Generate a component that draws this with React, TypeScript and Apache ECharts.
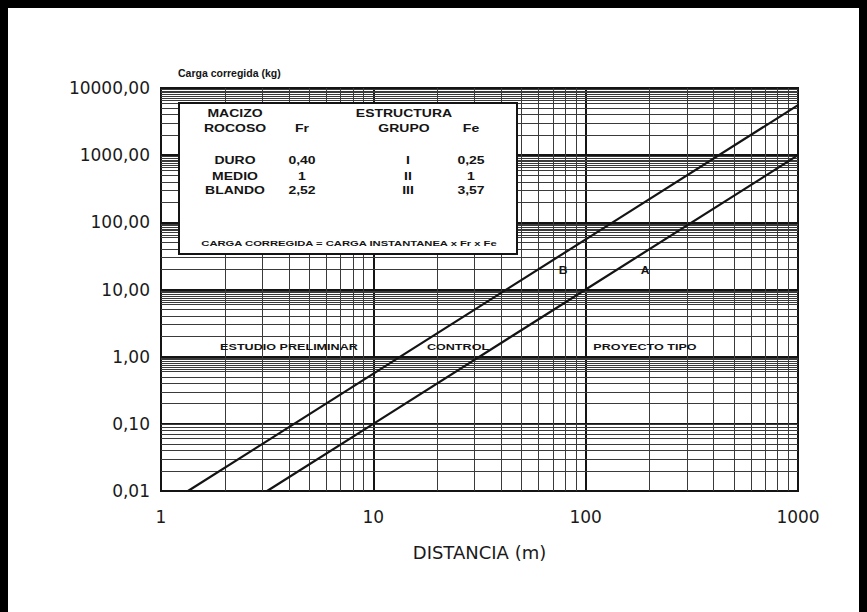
import React, { useEffect, useRef } from 'react';
import * as echarts from 'echarts';

// Axis ranges / tick labels
const xTicks = [1, 10, 100, 1000];
const yTicks = [0.01, 0.1, 1, 10, 100, 1000, 10000];
// Minor grid multipliers within each decade (log paper)
const xMinorSteps = [2, 3, 4, 5, 6, 7, 8, 9];
const yMinorSteps = [2, 3, 4, 5, 6, 6.5, 7, 7.5, 8, 8.5, 9, 9.5];

// Line A and line B
const lineAX = [3.16, 10, 100, 1000];
const lineAY = [0.01, 0.1, 10, 1000];
const lineBX = [1.34, 13.4, 134, 1000];
const lineBY = [0.01, 1, 100, 5550];

// Legend table
const tableRows = ['DURO', 'MEDIO', 'BLANDO'];
const frValues = ['0,40', '1', '2,52'];
const groupValues = ['I', 'II', 'III'];
const feValues = ['0,25', '1', '3,57'];
const zoneLabels = ['ESTUDIO PRELIMINAR', 'CONTROL', 'PROYECTO TIPO'];

const INK = '#141414';

export default function App() {
  const ref = useRef<HTMLDivElement>(null);

  useEffect(() => {
    if (!ref.current) return;
    const chart = echarts.init(ref.current, undefined, { renderer: 'svg' });

    const xMinor: number[] = [];
    xTicks.slice(0, -1).forEach((b) => xMinorSteps.forEach((m) => xMinor.push(b * m)));
    const yMinor: number[] = [];
    yTicks.slice(0, -1).forEach((b) => yMinorSteps.forEach((m) => yMinor.push(b * m)));

    const boldText = (text: string, x: number, y: number, size: number, sx = 1.4) => ({
      type: 'text',
      x,
      y,
      scaleX: sx,
      z: 20,
      style: {
        text,
        fill: INK,
        font: `bold ${size}px "Liberation Sans", Arial, sans-serif`,
        align: 'center',
        verticalAlign: 'middle',
      },
    });

    const colX = [235, 302, 408, 471];
    const rowY = [161, 176.5, 191];

    const graphics: any[] = [
      // frame (left, top, right)
      { type: 'rect', shape: { x: 0, y: 0, width: 8, height: 612 }, style: { fill: '#000' }, z: 30 },
      { type: 'rect', shape: { x: 0, y: 0, width: 867, height: 8 }, style: { fill: '#000' }, z: 30 },
      { type: 'rect', shape: { x: 859, y: 0, width: 8, height: 612 }, style: { fill: '#000' }, z: 30 },
      // legend box
      {
        type: 'rect',
        shape: { x: 179, y: 103, width: 338, height: 151 },
        style: { fill: '#fff', stroke: INK, lineWidth: 2 },
        z: 15,
      },
      boldText('MACIZO', colX[0], 113.5, 10),
      boldText('ROCOSO', colX[0], 128.5, 10),
      boldText('Fr', colX[1], 128.5, 10),
      boldText('ESTRUCTURA', 404, 113.5, 10),
      boldText('GRUPO', 404, 128.5, 10),
      boldText('Fe', colX[3], 128.5, 10),
      boldText('CARGA CORREGIDA = CARGA INSTANTANEA x Fr x Fe', 349, 243.5, 8),
    ];
    tableRows.forEach((r, i) => {
      graphics.push(boldText(r, colX[0], rowY[i], 10));
      graphics.push(boldText(frValues[i], colX[1], rowY[i], 10));
      graphics.push(boldText(groupValues[i], colX[2], rowY[i], 10));
      graphics.push(boldText(feValues[i], colX[3], rowY[i], 10));
    });
    const zoneX = [289, 458, 645];
    zoneLabels.forEach((t, i) => graphics.push(boldText(t, zoneX[i], 347, 9)));
    graphics.push(boldText('B', 563, 270, 11, 1.1));
    graphics.push(boldText('A', 645, 270, 11, 1.1));

    const option: any = {
      animation: false,
      backgroundColor: '#fff',
      grid: {
        left: 161,
        right: 69,
        top: 88,
        bottom: 121,
        show: true,
        borderColor: INK,
        borderWidth: 2,
        backgroundColor: '#fff',
      },
      xAxis: {
        type: 'log',
        logBase: 10,
        min: xTicks[0],
        max: xTicks[xTicks.length - 1],
        splitNumber: 3,
        axisLine: { show: true, lineStyle: { color: INK, width: 2 } },
        axisTick: { show: false },
        axisLabel: {
          margin: 17,
          fontFamily: 'DejaVu Sans',
          fontSize: 17,
          color: '#1a1a1a',
          formatter: (v: number) => String(Math.round(v)),
        },
        splitLine: { show: true, lineStyle: { color: INK, width: 2 } },
        name: 'DISTANCIA (m)',
        nameLocation: 'middle',
        nameGap: 52,
        nameTextStyle: { fontFamily: 'DejaVu Sans', fontSize: 18, color: '#1a1a1a' },
      },
      yAxis: {
        type: 'log',
        logBase: 10,
        min: yTicks[0],
        max: yTicks[yTicks.length - 1],
        splitNumber: 6,
        axisLine: { show: true, lineStyle: { color: INK, width: 2 } },
        axisTick: { show: false },
        axisLabel: {
          margin: 11,
          fontFamily: 'DejaVu Sans',
          fontSize: 17,
          color: '#1a1a1a',
          formatter: (v: number) => v.toFixed(2).replace('.', ','),
        },
        splitLine: { show: true, lineStyle: { color: INK, width: 2 } },
        name: 'Carga corregida (kg)',
        nameLocation: 'end',
        nameGap: 10,
        nameTextStyle: {
          align: 'left',
          fontFamily: 'Liberation Sans',
          fontWeight: 'bold',
          fontSize: 10.5,
          color: INK,
          padding: [0, 0, 0, 17],
        },
      },
      series: [
        {
          type: 'line',
          data: [],
          z: 1,
          silent: true,
          markLine: {
            silent: true,
            symbol: ['none', 'none'],
            label: { show: false },
            lineStyle: { color: '#3a3a3a', width: 1, type: 'solid' },
            data: [
              ...xMinor.map((v) => ({ xAxis: v })),
              ...yMinor.map((v) => ({ yAxis: v })),
            ],
          },
        },
        {
          name: 'A',
          type: 'line',
          data: lineAX.map((x, i) => [x, lineAY[i]]),
          showSymbol: false,
          z: 5,
          lineStyle: { color: INK, width: 2.2 },
        },
        {
          name: 'B',
          type: 'line',
          data: lineBX.map((x, i) => [x, lineBY[i]]),
          showSymbol: false,
          z: 5,
          lineStyle: { color: INK, width: 2.2 },
        },
      ],
      graphic: graphics,
    };

    chart.setOption(option);
    return () => chart.dispose();
  }, []);

  return (
    <div
      ref={ref}
      style={{ position: 'fixed', left: 0, top: 0, width: 867, height: 612, background: '#fff' }}
    />
  );
}
